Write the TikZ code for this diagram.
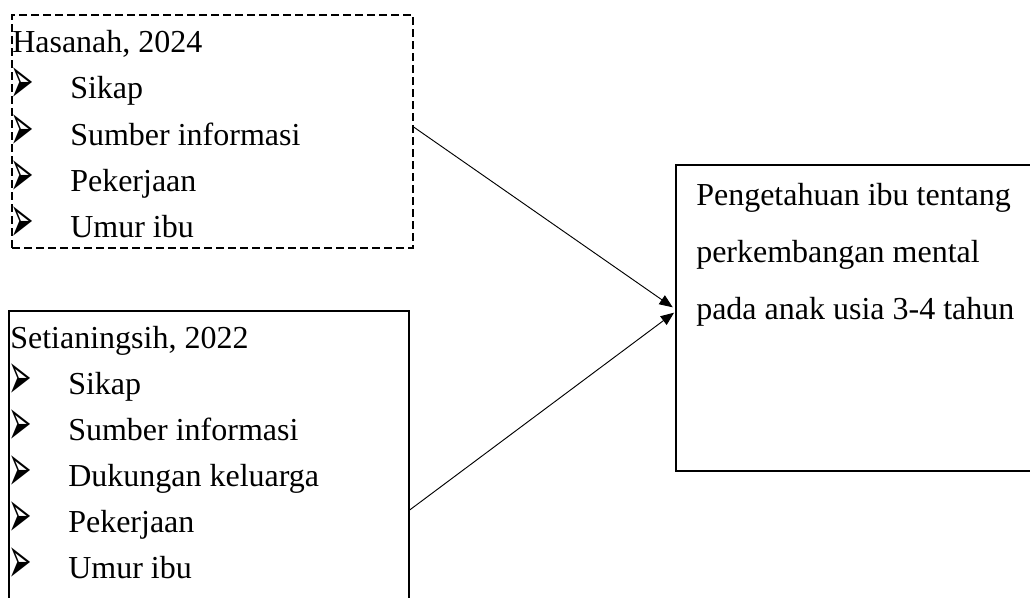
\documentclass[tikz,border=0pt]{standalone}
\usepackage{fontspec}
\setmainfont{Liberation Serif}
\newfontfamily\bulfont{DejaVu Sans}
\usetikzlibrary{arrows.meta}
\newcommand{\itm}[1]{\makebox[43.5pt][l]{\hspace*{-1pt}\raisebox{-4pt}{\scalebox{0.5}[1.2]{\bulfont\fontsize{42}{42}\selectfont ➢}}}#1}

\begin{document}
\begin{tikzpicture}[x=0.75pt, y=-0.75pt,
	box/.style={draw, line width=0.9pt, inner sep=0pt},
	txt/.style={anchor=base west, inner sep=0pt, font=\fontsize{24}{28}\selectfont},
	link/.style={-{Triangle[length=10pt, width=8pt]}, line width=0.7pt}]
	\useasboundingbox (0,0) rectangle (1030,597);
	\clip (0,0) rectangle (1030,597);

	\node[box, dash pattern=on 6pt off 3pt, minimum width=300.75pt, minimum height=174.75pt] at (212.5,131.5) (hasanah) {};
	\node[box, minimum width=300pt, minimum height=231.75pt] at (209,465.5) (setia) {};
	\node[box, minimum width=276.75pt, minimum height=229.5pt] at (860.5,318) (pengetahuan) {};

	\node[txt] at (12,52) (h0) {Hasanah, 2024};
	\node[txt] at (12,98) (h1) {\itm{Sikap}};
	\node[txt] at (12,145) (h2) {\itm{Sumber informasi}};
	\node[txt] at (12,191) (h3) {\itm{Pekerjaan}};
	\node[txt] at (12,237) (h4) {\itm{Umur ibu}};

	\node[txt] at (10,348) (s0) {Setianingsih, 2022};
	\node[txt] at (10,394) (s1) {\itm{Sikap}};
	\node[txt] at (10,440) (s2) {\itm{Sumber informasi}};
	\node[txt] at (10,486) (s3) {\itm{Dukungan keluarga}};
	\node[txt] at (10,532) (s4) {\itm{Pekerjaan}};
	\node[txt] at (10,578) (s5) {\itm{Umur ibu}};

	\node[txt] at (696,205) (p1) {Pengetahuan ibu tentang};
	\node[txt] at (696,262) (p2) {perkembangan mental};
	\node[txt] at (696,319) (p3) {pada anak usia 3-4 tahun};

	\draw[link] ([yshift=3.4pt]hasanah.east) -- ([xshift=-2pt, yshift=8pt]pengetahuan.west);
	\draw[link] ([yshift=-33.4pt]setia.east) -- ([xshift=-1pt, yshift=4pt]pengetahuan.west);
\end{tikzpicture}
\end{document}
